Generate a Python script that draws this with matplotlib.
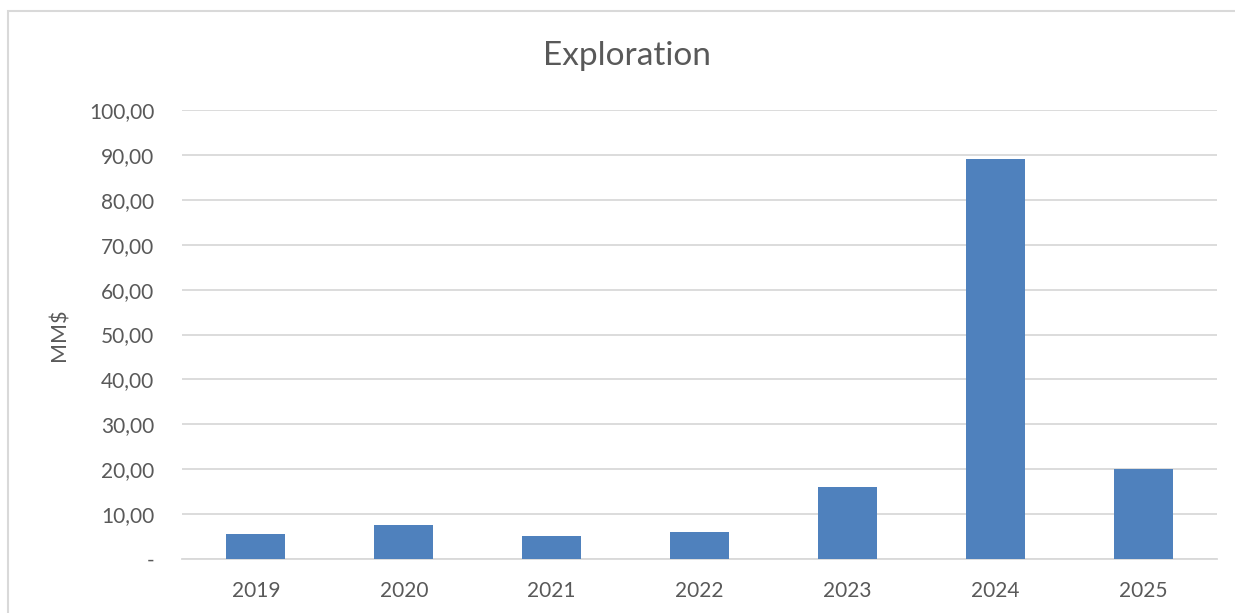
import matplotlib
matplotlib.use("Agg")
import matplotlib.pyplot as plt
from matplotlib.patches import Rectangle

years = ["2019", "2020", "2021", "2022", "2023", "2024", "2025"]
spend_mm = [5.55, 7.6, 5.05, 6.0, 16.1, 89.1, 20.0]
y_ticks = [0, 10, 20, 30, 40, 50, 60, 70, 80, 90, 100]

TEXT = "#595959"
GRID = "#d9d9d9"
BAR = "#4f81bd"

plt.rcParams["font.family"] = ["Lato", "DejaVu Sans"]

W, H = 1235, 613
fig = plt.figure(figsize=(W / 100, H / 100), dpi=100)

# outer chart-area frame, runs off the right and bottom edges
fig.patches.append(Rectangle((8 / W, -0.1), 1.2, 1.1 - 11 / H, transform=fig.transFigure,
                             fill=False, edgecolor=GRID, linewidth=1.5))

ax = fig.add_axes([182 / W, 1 - 559 / H, (1217 - 182) / W, (559 - 110) / H])
x = range(len(years))
ax.bar(x, spend_mm, width=0.4, color=BAR, zorder=3)

ax.set_xlim(-0.5, len(years) - 0.5)
ax.set_ylim(0, 100)
ax.set_yticks(y_ticks)
ax.set_yticklabels(["-" if v == 0 else f"{v:.2f}".replace(".", ",") for v in y_ticks])
ax.set_xticks(list(x))
ax.set_xticklabels(years)
ax.grid(axis="y", color=GRID, linewidth=1.3, zorder=0)
for s in ["top", "right", "left"]:
    ax.spines[s].set_visible(False)
ax.spines["bottom"].set_color(GRID)
ax.spines["bottom"].set_linewidth(1.3)
ax.tick_params(length=0, labelsize=15, colors=TEXT)
ax.tick_params(axis="y", pad=20)
ax.tick_params(axis="x", pad=16)

fig.text(59 / W, 1 - 335 / H, "MM$", rotation=90, ha="center", va="center",
         fontsize=15.5, color=TEXT)
fig.text(627 / W, 1 - 56 / H, "Exploration", ha="center", va="center",
         fontsize=24, color=TEXT)

fig.savefig("out.png", dpi=100, facecolor="white")
